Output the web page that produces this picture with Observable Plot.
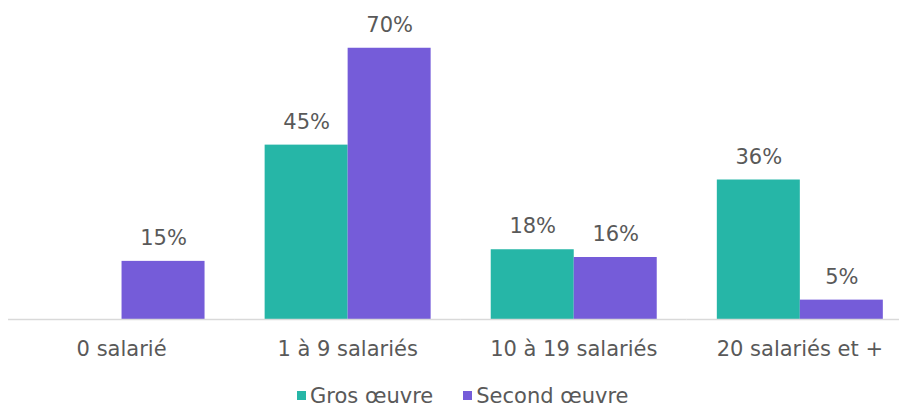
<!DOCTYPE html>
<html>
<head>
<meta charset="utf-8">
<script src="https://cdn.jsdelivr.net/npm/d3@7"></script>
<script src="https://cdn.jsdelivr.net/npm/@observablehq/plot@0.6"></script>
<style>
  body { margin: 0; background: #fff; font-family: "DejaVu Sans", sans-serif; }
  #legend { display: flex; justify-content: flex-start; align-items: center; height: 31px; padding-left: 297px; box-sizing: border-box; font-size: 21px; color: #595959; }
  .item { display: flex; align-items: center; margin-right: 30px; }
  .sw { width: 9px; height: 9px; margin-right: 4px; }
</style>
</head>
<body>
<div id="chart"></div>
<div id="legend"></div>
<script>
const categories = ["0 salarié", "1 à 9 salariés", "10 à 19 salariés", "20 salariés et +"];
const seriesNames = ["Gros œuvre", "Second œuvre"];
const grosOeuvre = [null, 45, 18, 36];
const secondOeuvre = [15, 70, 16, 5];
const colors = ["#26B6A7", "#755CD9"];

const data = [];
categories.forEach((c, i) => {
  if (grosOeuvre[i] != null) data.push({cat: c, series: seriesNames[0], value: grosOeuvre[i]});
  if (secondOeuvre[i] != null) data.push({cat: c, series: seriesNames[1], value: secondOeuvre[i]});
});

const chart = Plot.plot({
  width: 899,
  height: 380,
  marginLeft: 8,
  marginRight: 2,
  marginTop: 9,
  marginBottom: 61,
  style: {fontFamily: "DejaVu Sans, sans-serif", fontSize: "21px", color: "#595959", background: "#fff"},
  fx: {domain: categories, paddingInner: 0.261, paddingOuter: 0.0965, align: 0.677, round: false, axis: "bottom", label: null, tickSize: 0, tickPadding: 22},
  x: {domain: seriesNames, axis: null, padding: 0},
  y: {domain: [0, 80], axis: null},
  color: {domain: seriesNames, range: colors},
  marks: [
    Plot.barY(data, {fx: "cat", x: "series", y: "value", fill: "series"}),
    Plot.ruleY([0], {stroke: "#d9d9d9", strokeWidth: 1.5, insetLeft: -29.5, insetRight: -29.5}),
    Plot.text(data, {fx: "cat", x: "series", y: "value", text: d => d.value + "%", dy: -23, lineAnchor: "middle", fill: "#595959", fontSize: 21})
  ]
});
document.getElementById("chart").appendChild(chart);

const legend = document.getElementById("legend");
seriesNames.forEach((s, i) => {
  const it = document.createElement("div");
  it.className = "item";
  const sw = document.createElement("div");
  sw.className = "sw";
  sw.style.background = colors[i];
  const t = document.createElement("span");
  t.textContent = s;
  it.appendChild(sw); it.appendChild(t);
  legend.appendChild(it);
});
</script>
</body>
</html>
